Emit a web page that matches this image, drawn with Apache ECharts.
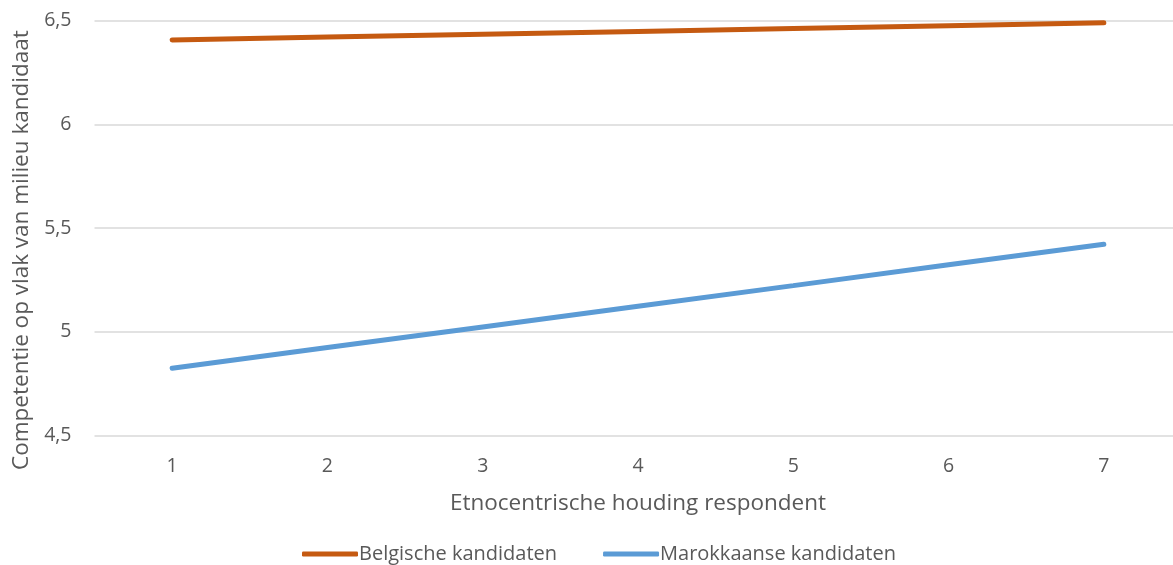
<!DOCTYPE html>
<html>
<head>
<meta charset="utf-8">
<script src="https://cdn.jsdelivr.net/npm/echarts@6/dist/echarts.min.js"></script>
<style>html,body{margin:0;padding:0;background:#fff}#c{width:1173px;height:565px}</style>
</head>
<body>
<div id="c"></div>
<script>
const categories = ['1', '2', '3', '4', '5', '6', '7'];
const belgisch = [6.406, 6.420, 6.434, 6.447, 6.461, 6.475, 6.489];
const marokkaans = [4.825, 4.925, 5.024, 5.124, 5.223, 5.323, 5.422];
const seriesNames = ['Belgische kandidaten', 'Marokkaanse kandidaten'];
const yTitle = 'Competentie op vlak van milieu kandidaat';
const xTitle = 'Etnocentrische houding respondent';

const font = '"Open Sans", "Liberation Sans", sans-serif';
const chart = echarts.init(document.getElementById('c'));
chart.setOption({
  animation: false,
  textStyle: { fontFamily: font, color: '#595959' },
  grid: { left: 94.5, width: 1087, top: 20.5, height: 415.2, outerBoundsMode: 'none', containLabel: false },
  legend: {
    top: 539, left: 297,
    itemWidth: 56, itemHeight: 5, itemGap: 46,
    icon: 'roundRect',
    textStyle: { fontFamily: font, fontSize: 20, color: '#595959', padding: [0, 0, 0, -4] },
    data: seriesNames
  },
  xAxis: {
    type: 'category',
    data: categories,
    boundaryGap: true,
    name: xTitle,
    nameLocation: 'middle',
    nameGap: 56,
    nameTextStyle: { fontFamily: font, fontSize: 22.5, color: '#595959' },
    axisLine: { show: false },
    axisTick: { show: false },
    axisLabel: { fontFamily: font, fontSize: 19.5, color: '#595959', margin: 21 }
  },
  yAxis: {
    type: 'value',
    min: 4.5, max: 6.5, interval: 0.5,
    name: yTitle,
    nameLocation: 'middle',
    nameGap: 61,
    nameTextStyle: { fontFamily: font, fontSize: 22.5, color: '#595959', padding: [0, 44, 0, 0] },
    axisLine: { show: false },
    axisTick: { show: false },
    splitLine: { lineStyle: { color: '#d9d9d9', width: 1.5 } },
    axisLabel: {
      fontFamily: font, fontSize: 19.5, color: '#595959', margin: 23,
      formatter: v => String(v).replace('.', ',')
    }
  },
  series: [
    {
      name: seriesNames[0], type: 'line', data: belgisch,
      symbol: 'none', color: '#C55A11',
      lineStyle: { width: 5, color: '#C55A11', cap: 'round' }
    },
    {
      name: seriesNames[1], type: 'line', data: marokkaans,
      symbol: 'none', color: '#5B9BD5',
      lineStyle: { width: 5, color: '#5B9BD5', cap: 'round' }
    }
  ]
});
</script>
</body>
</html>
